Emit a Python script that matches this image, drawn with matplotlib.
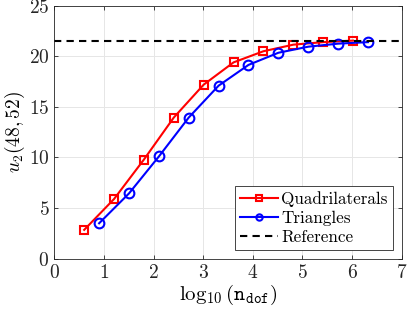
import numpy as np
import matplotlib
matplotlib.use("Agg")
import matplotlib.pyplot as plt

plt.rcParams['font.family'] = 'serif'
plt.rcParams['font.serif'] = ['cmr10', 'DejaVu Serif']
plt.rcParams['mathtext.fontset'] = 'cm'
plt.rcParams['axes.formatter.use_mathtext'] = True

quad_x = [0.602, 1.204, 1.806, 2.408, 3.010, 3.612, 4.214, 4.816, 5.418, 6.020]
quad_y = [2.85, 5.9, 9.8, 13.95, 17.2, 19.4, 20.5, 21.15, 21.4, 21.55]
tri_x = [0.903, 1.505, 2.107, 2.709, 3.311, 3.913, 4.515, 5.117, 5.719, 6.321]
tri_y = [3.5, 6.45, 10.1, 13.95, 17.1, 19.15, 20.35, 20.95, 21.25, 21.4]
ref_val = 21.55

xticks = [0, 1, 2, 3, 4, 5, 6, 7]
yticks = [0, 5, 10, 15, 20, 25]

fig = plt.figure(figsize=(4.07, 3.17), dpi=100)
ax = fig.add_axes([54.3/407, (317-258.7)/317, (401.7-54.3)/407, (258.7-5.7)/317])

ax.plot(quad_x, quad_y, '-s', color='#ff0000', lw=1.5, ms=6, mfc='none', mew=1.5, label='Quadrilaterals')
ax.plot(tri_x, tri_y, '-o', color='#0000ff', lw=1.5, ms=7, mfc='none', mew=1.5, label='Triangles')
ax.axhline(ref_val, color='black', ls=(0, (3.5, 2.5)), lw=1.5, label='Reference')

ax.set_xlim(0, 7)
ax.set_ylim(0, 25)
ax.set_xticks(xticks)
ax.set_yticks(yticks)
ax.tick_params(direction='in', top=True, right=True, labelsize=14, colors='#262626', length=3, width=0.6)
ax.grid(True, color='#e6e6e6', lw=0.7)
ax.set_axisbelow(True)
for s in ax.spines.values():
    s.set_color('#262626')
    s.set_linewidth(0.6)

ax.set_xlabel(r'$\log_{10}(\mathtt{n_{dof}})$', fontsize=15, labelpad=1)
ax.set_ylabel(r'$u_2(48,52)$', fontsize=14, labelpad=1)

leg = ax.legend(loc='lower right', bbox_to_anchor=(0.975, 0.035), fontsize=12.3, frameon=True, fancybox=False,
                edgecolor='#262626', framealpha=1, borderpad=0.3, labelspacing=0.2, handlelength=2.2,
                handletextpad=0.2, borderaxespad=0, markerscale=0.65)
leg.get_frame().set_linewidth(0.6)

fig.savefig('out.png', dpi=100)
